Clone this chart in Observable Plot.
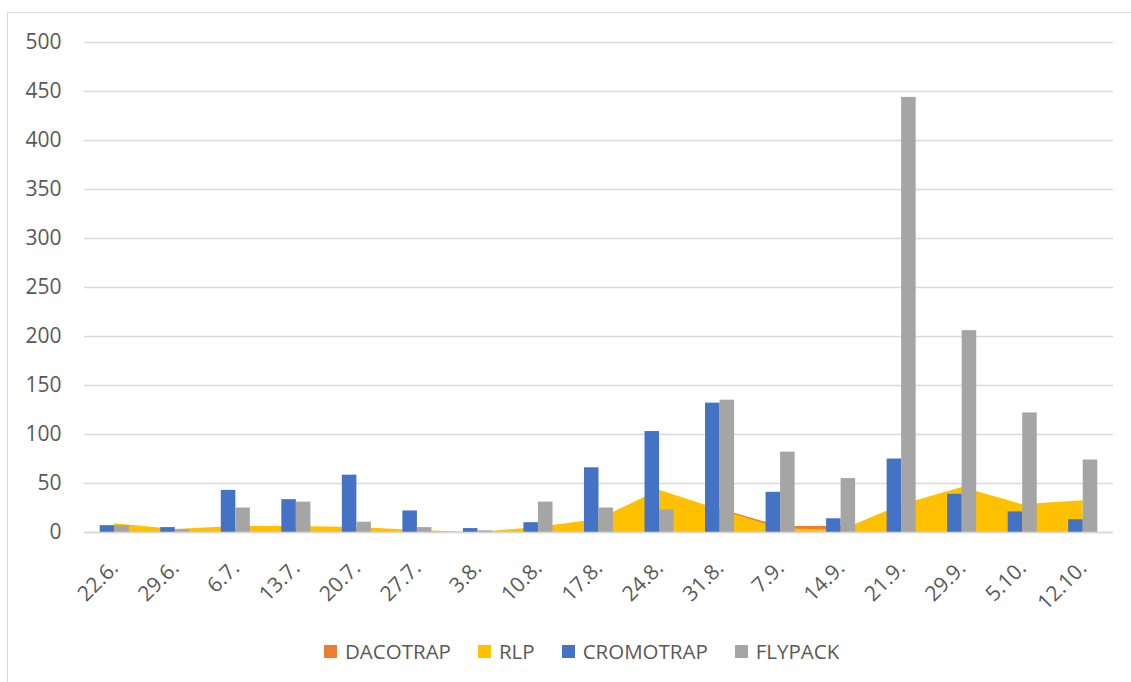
<!DOCTYPE html>
<html>
<head>
<meta charset="utf-8">
<script src="https://cdn.jsdelivr.net/npm/d3@7"></script>
<script src="https://cdn.jsdelivr.net/npm/@observablehq/plot@0.6"></script>
<style>
  html, body { margin: 0; padding: 0; background: #fff; }
  body { width: 1131px; height: 682px; overflow: hidden; position: relative; font-family: "Open Sans", sans-serif; }
  #frame { position: absolute; left: 7px; top: 12px; width: 1200px; height: 800px; border: 1.5px solid #d9d9d9; box-sizing: border-box; }
  #chart { position: absolute; left: 0; top: 0; }
  #legend { position: absolute; left: 324px; top: 636px; height: 30px; display: flex; align-items: center; font-size: 20.5px; color: #595959; }
  .item { display: flex; align-items: center; margin-right: 27px; }
  .sw { width: 13px; height: 13px; margin-right: 8px; }
</style>
</head>
<body>
<div id="frame"></div>
<div id="chart"></div>
<div id="legend"></div>
<script>
// Sampling dates (week labels)
const dates = ["22.6.", "29.6.", "6.7.", "13.7.", "20.7.", "27.7.", "3.8.", "10.8.", "17.8.", "24.8.", "31.8.", "7.9.", "14.9.", "21.9.", "29.9.", "5.10.", "12.10."];

// Catches per trap type
const dacotrap  = [0, 0, 0, 0, 0, 0, 0, 0, 0, 0, 24, 6, 6, 0, 0, 0, 0];
const rlp       = [9, 3, 6, 6, 5, 2, 0, 5, 13.5, 43, 23, 4, 2, 28, 46, 28.3, 32.3];
const cromotrap = [7, 5, 43, 33.5, 58.5, 22, 4, 10, 66, 103, 132, 41, 14, 75, 39, 21, 13];
const flypack   = [7, 2.7, 25, 31, 10.5, 5, 1.7, 31, 25, 23, 135, 82, 55, 444, 206, 122, 74];

const series = ["DACOTRAP", "RLP", "CROMOTRAP", "FLYPACK"];
const colors = ["#ED7D31", "#FFC000", "#4472C4", "#A5A5A5"];
const yTicks = d3.range(0, 501, 50);

const rows = dates.map((d, i) => ({
  i, date: d,
  DACOTRAP: dacotrap[i], RLP: rlp[i], CROMOTRAP: cromotrap[i], FLYPACK: flypack[i]
}));

const half = 0.24; // width of one bar, in category units

const chart = Plot.plot({
  width: 1131,
  height: 620,
  marginTop: 42,
  marginBottom: 88,
  marginLeft: 84,
  marginRight: 18,
  style: { fontFamily: "Open Sans, sans-serif", fontSize: "21px", color: "#595959", background: "transparent" },
  x: { type: "linear", domain: [-0.5, dates.length - 0.5] },
  y: { domain: [0, 500] },
  marks: [
    Plot.gridY(yTicks, { stroke: "#d9d9d9", strokeOpacity: 1, strokeWidth: 1.4 }),
    Plot.area(rows, { x1: "i", y1: 0, y2: "DACOTRAP", fill: colors[0] }),
    Plot.area(rows, { x1: "i", y1: 0, y2: "RLP", fill: colors[1] }),
    Plot.rect(rows, { x1: d => d.i - half, x2: "i", y1: 0, y2: "CROMOTRAP", fill: colors[2] }),
    Plot.rect(rows, { x1: "i", x2: d => d.i + half, y1: 0, y2: "FLYPACK", fill: colors[3] }),
    Plot.ruleY([0], { stroke: "#d9d9d9", strokeWidth: 1.6 }),
    Plot.axisY(yTicks, { tickSize: 0, tickPadding: 23, label: null, fill: "#595959" }),
    Plot.axisX(d3.range(dates.length), {
      tickFormat: i => dates[i], tickRotate: -45, tickSize: 0, tickPadding: 32, label: null, fill: "#595959"
    })
  ]
});
document.getElementById("chart").appendChild(chart);

// Legend
const legend = d3.select("#legend");
series.forEach((s, k) => {
  const item = legend.append("div").attr("class", "item");
  item.append("div").attr("class", "sw").style("background", colors[k]);
  item.append("span").text(s);
});
</script>
</body>
</html>
